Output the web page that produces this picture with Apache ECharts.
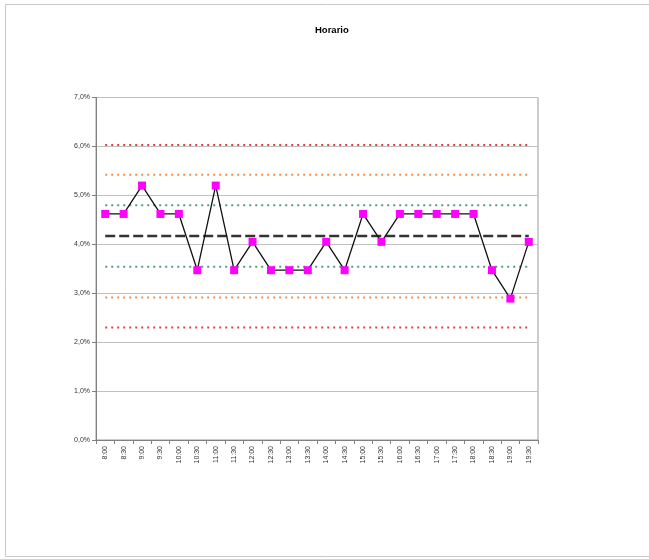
<!DOCTYPE html>
<html>
<head>
<meta charset="utf-8">
<script src="https://cdn.jsdelivr.net/npm/echarts@6/dist/echarts.min.js"></script>
<style>
html,body{margin:0;padding:0;background:#fff;}
#c{width:649px;height:559px;}
</style>
</head>
<body>
<div id="c"></div>
<script>
const categories = ['8:00','8:30','9:00','9:30','10:00','10:30','11:00','11:30','12:00','12:30','13:00','13:30','14:00','14:30','15:00','15:30','16:00','16:30','17:00','17:30','18:00','18:30','19:00','19:30'];
const horario = [4.62,4.62,5.20,4.62,4.62,3.47,5.20,3.47,4.05,3.47,3.47,3.47,4.05,3.47,4.62,4.05,4.62,4.62,4.62,4.62,4.62,3.47,2.89,4.05];
const mean = 4.17;
const limit1 = [3.54, 4.80];
const limit2 = [2.91, 5.42];
const limit3 = [2.30, 6.03];

const flat = v => categories.map(() => v);
const font = 'Liberation Sans';

function dotted(name, v, color){
  return {name, type:'line', data:flat(v), symbol:'none', silent:true,
    lineStyle:{color, width:2, type:[2,4]}, z:2};
}

const chart = echarts.init(document.getElementById('c'), null, {renderer:'canvas'});
chart.setOption({
  animation:false,
  backgroundColor:'#fff',
  title:{text:'Horario', left:310, top:20,
    textStyle:{fontFamily:font, fontSize:9.5, fontWeight:'bold', color:'#000'}},
  graphic:[{type:'rect', shape:{x:5.5, y:4.5, width:700, height:552}, style:{fill:'none', stroke:'#c8c8c8', lineWidth:1}, silent:true},
           {type:'rect', shape:{x:96, y:97.5, width:442, height:342.5}, style:{fill:'none', stroke:'#9a9a9a', lineWidth:1}, silent:true, z:0}],
  grid:{left:96, right:111, top:97.5, bottom:119, containLabel:false},
  xAxis:{type:'category', data:categories, boundaryGap:true,
    axisLine:{lineStyle:{color:'#808080', width:1}},
    axisTick:{show:true, alignWithLabel:false, length:4, lineStyle:{color:'#808080'}},
    axisLabel:{rotate:90, fontFamily:font, fontSize:7, color:'#333', margin:6, interval:0}},
  yAxis:{type:'value', min:0, max:7, interval:1,
    axisLine:{show:true, lineStyle:{color:'#808080', width:1}},
    axisTick:{show:true, length:4, lineStyle:{color:'#808080'}},
    splitLine:{lineStyle:{color:'#c0c0c0', width:1}},
    axisLabel:{fontFamily:font, fontSize:7, color:'#333', margin:6,
      formatter: v => v.toFixed(1).replace('.', ',') + '%'}},
  series:[
    dotted('LCS3', limit3[1], '#e0443e'),
    dotted('LCS2', limit2[1], '#f2904c'),
    dotted('LCS1', limit1[1], '#4f9d80'),
    dotted('LCI1', limit1[0], '#4f9d80'),
    dotted('LCI2', limit2[0], '#f2904c'),
    dotted('LCI3', limit3[0], '#e0443e'),
    {name:'Media', type:'line', data:flat(mean), symbol:'none', silent:true,
      lineStyle:{color:'#333', width:2.5, type:[10,4]}, z:3},
    {name:'Horario', type:'line', data:horario, symbol:'rect', symbolSize:8,
      itemStyle:{color:'#ff00ff'}, lineStyle:{color:'#111', width:1.3}, z:5}
  ]
});
</script>
</body>
</html>
